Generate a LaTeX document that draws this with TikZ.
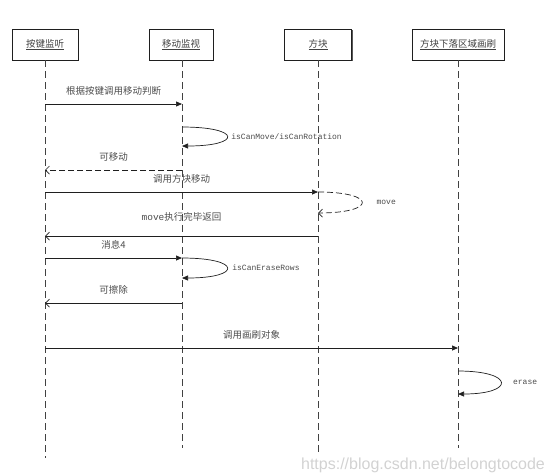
\documentclass[tikz,border=0pt]{standalone}
\usepackage{fontspec}
\newfontfamily\cjk{Noto Sans CJK SC}
\setmonofont{Liberation Mono}
\usetikzlibrary{arrows.meta,shadows}
\definecolor{seqink}{HTML}{1F1F1F}

\begin{document}
\begin{tikzpicture}[x=1pt,y=-1pt,
  point/.style={coordinate},
  actor/.style={draw=seqink, line width=0.8pt, rectangle, fill=white, minimum height=31pt, inner sep=0pt, font=\cjk\fontsize{9.5}{11}\selectfont, text=seqink!85, drop shadow={shadow xshift=1.3pt, shadow yshift=-1.3pt, fill=seqink!75, opacity=1}},
  lifeline/.style={draw=seqink!85, line width=0.8pt, dash pattern=on 7pt off 4pt},
  call/.style={draw=seqink, line width=0.7pt, -{Triangle[length=6pt,width=5pt]}},
  reply/.style={draw=seqink, line width=0.7pt, -{Straight Barb[length=4pt,width=8pt]}},
  back/.style={dash pattern=on 6pt off 3pt},
  msg/.style={font=\cjk\fontsize{9.5}{11}\selectfont, text=seqink!80, inner sep=0pt, midway, above=8pt},
  note/.style={font=\ttfamily\fontsize{8}{10}\selectfont, text=seqink!80, inner sep=0pt, pos=0.5}]
\useasboundingbox (0,0) rectangle (553,475);
\node[actor, minimum width=66pt] (keylisten) at (45,44.5)  {\underline{按键监听}};
\node[actor, minimum width=64pt] (movemon)   at (181,44.5) {\underline{移动监视}};
\node[actor, minimum width=67pt] (block)     at (318,44.5) {\underline{方块}};
\node[actor, minimum width=92pt] (brush)     at (458,44.5) {\underline{方块下落区域画刷}};
\node[point] (keylistenend) at (45,458)  {};
\node[point] (movemonend)   at (182,448) {};
\node[point] (blockend)     at (318,453) {};
\node[point] (brushend)     at (458,448) {};
\draw[lifeline] (keylisten.south -| keylistenend) -- (keylistenend);
\draw[lifeline] (movemon.south -| movemonend) -- (movemonend);
\draw[lifeline] (block.south -| blockend) -- (blockend);
\draw[lifeline] (brush.south -| brushend) -- (brushend);
\node[point] (r1)  at (0,104) {};
\node[point] (r2)  at (0,127) {};
\node[point] (r2b) at (0,146) {};
\node[point] (r3)  at (0,170) {};
\node[point] (r4)  at (0,192) {};
\node[point] (r4b) at (0,213) {};
\node[point] (r5)  at (0,236) {};
\node[point] (r6)  at (0,258) {};
\node[point] (r6b) at (0,278) {};
\node[point] (r7)  at (0,303) {};
\node[point] (r8)  at (0,348) {};
\node[point] (r9)  at (0,371) {};
\node[point] (r9b) at (0,394) {};
\draw[call]  (keylistenend |- r1) -- (movemonend |- r1) node[msg] {根据按键调用移动判断};
\draw[call]  (movemonend |- r2) .. controls +(60,0) and +(60,0) .. (movemonend |- r2b) node[note, right=4pt] {isCanMove/isCanRotation};
\draw[reply, back] (movemonend |- r3) -- (keylistenend |- r3) node[msg] {可移动};
\draw[call]  (keylistenend |- r4) -- (blockend |- r4) node[msg] {调用方块移动};
\draw[reply, back] (blockend |- r4) .. controls +(59,0) and +(59,0) .. (blockend |- r4b) node[note, right=14pt] {move};
\draw[reply] (blockend |- r5) -- (keylistenend |- r5) node[msg, above=6pt] {\texttt{move}执行完毕返回};
\draw[call]  (keylistenend |- r6) -- (movemonend |- r6) node[msg] {消息4};
\draw[call]  (movemonend |- r6) .. controls +(60,0) and +(60,0) .. (movemonend |- r6b) node[note, right=5pt] {isCanEraseRows};
\draw[reply] (movemonend |- r7) -- (keylistenend |- r7) node[msg] {可擦除};
\draw[call]  (keylistenend |- r8) -- (brushend |- r8) node[msg] {调用画刷对象};
\draw[call]  (brushend |- r9) .. controls +(57,0) and +(57,0) .. (brushend |- r9b) node[note, right=12pt] {erase};
\node[font=\fontspec{Liberation Sans}\fontsize{16}{18}\selectfont, text=gray!35, inner sep=0pt] (mark) at (423,465) {https://blog.csdn.net/belongtocode};
\end{tikzpicture}
\end{document}
